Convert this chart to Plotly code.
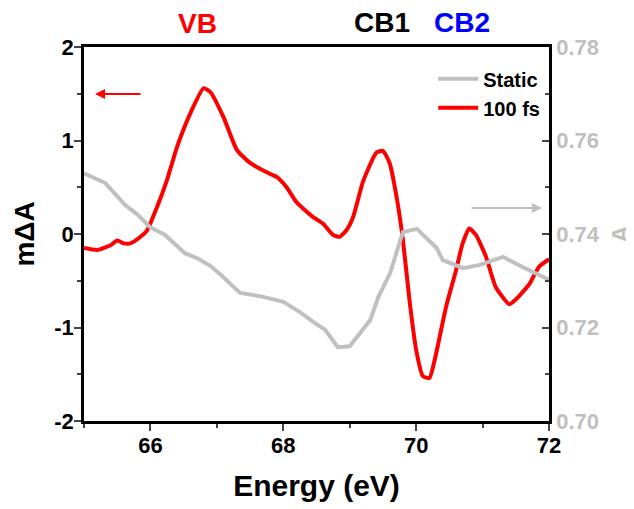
import plotly.graph_objects as go

# 100 fs transient (mΔA, left axis)
energy_100fs = [65.0, 65.2, 65.4, 65.5, 65.6, 65.7, 65.85, 65.95, 66.1, 66.25,
                66.4, 66.6, 66.8, 66.9, 67.1, 67.3, 67.5, 67.75, 67.9, 68.05,
                68.2, 68.45, 68.6, 68.75, 68.85, 68.95, 69.05, 69.2, 69.4, 69.5,
                69.6, 69.7, 69.8, 69.9, 70.0, 70.1, 70.2, 70.3, 70.45, 70.6,
                70.7, 70.8, 70.9, 71.05, 71.2, 71.4, 71.5, 71.7, 71.85, 72.0]
dA_100fs = [-0.15, -0.17, -0.12, -0.07, -0.10, -0.10, -0.03, 0.04, 0.29, 0.58,
            0.93, 1.29, 1.56, 1.52, 1.25, 0.90, 0.76, 0.66, 0.61, 0.50,
            0.34, 0.18, 0.11, -0.01, -0.03, 0.04, 0.18, 0.56, 0.87, 0.89,
            0.76, 0.42, -0.06, -0.71, -1.24, -1.52, -1.54, -1.28, -0.78, -0.39,
            -0.10, 0.06, -0.01, -0.24, -0.57, -0.75, -0.70, -0.54, -0.35, -0.27]

# Static absorbance (A, right axis)
energy_static = [65.0, 65.32, 65.62, 65.81, 65.99, 66.22, 66.52, 66.72, 66.90, 67.05,
                 67.35, 67.65, 68.0, 68.25, 68.45, 68.63, 68.82, 69.0, 69.31, 69.43,
                 69.61, 69.8, 70.01, 70.31, 70.4, 70.71, 70.96, 71.31, 71.61, 72.0]
A_static = [0.7530, 0.7509, 0.7462, 0.7441, 0.7415, 0.7398, 0.7359, 0.7347, 0.7332, 0.7314,
            0.7274, 0.7267, 0.7255, 0.7233, 0.7212, 0.7195, 0.7158, 0.7160, 0.7216, 0.7265,
            0.7317, 0.7404, 0.7411, 0.7370, 0.7344, 0.7327, 0.7334, 0.7351, 0.7329, 0.7302]

x_ticks = [66, 68, 70, 72]
x_labels = ["66", "68", "70", "72"]
y_left_ticks = [-2, -1, 0, 1, 2]
y_left_labels = ["-2", "-1", "0", "1", "2"]
y_right_ticks = [0.70, 0.72, 0.74, 0.76, 0.78]
y_right_labels = ["0.70", "0.72", "0.74", "0.76", "0.78"]

GRAY = "#c0c0c0"
FONT = "Liberation Sans"


def b(s):
    return "<b>" + s + "</b>"


fig = go.Figure()
fig.add_trace(go.Scatter(x=energy_static, y=A_static, name=b("Static"), mode="lines",
                         line=dict(color=GRAY, width=4), yaxis="y2"))
fig.add_trace(go.Scatter(x=energy_100fs, y=dA_100fs, name=b("100 fs"), mode="lines",
                         line=dict(color="#ff0000", width=4, shape="spline", smoothing=0.5),
                         yaxis="y"))

fig.update_layout(
    width=626, height=501,
    margin=dict(l=76, r=85, t=39, b=88, autoexpand=False),
    plot_bgcolor="white", paper_bgcolor="white",
    font=dict(family=FONT, color="black"),
    showlegend=True,
    legend=dict(x=0.751, y=0.967, xanchor="left", yanchor="top", itemwidth=40,
                bgcolor="rgba(0,0,0,0)", font=dict(size=20),
                traceorder="normal", tracegroupgap=0),
    xaxis=dict(range=[65, 72], tickvals=x_ticks, ticktext=[b(t) for t in x_labels],
               ticks="outside", ticklen=7, tickwidth=2, automargin=False,
               ticklabelstandoff=-4,
               showline=True, linewidth=2.5, linecolor="black", mirror=True,
               showgrid=False, zeroline=False,
               tickfont=dict(size=22),
               minor=dict(tickvals=[65, 67, 69, 71], ticks="outside", ticklen=4, tickwidth=2),
               title=dict(text=b("Energy (eV)"), font=dict(size=30), standoff=18)),
    yaxis=dict(range=[-2, 2], tickvals=y_left_ticks, ticktext=[b(t) for t in y_left_labels],
               ticks="outside", ticklen=7, tickwidth=2, automargin=False,
               ticklabelstandoff=-4,
               showline=True, linewidth=2.5, linecolor="black",
               showgrid=False, zeroline=False,
               tickfont=dict(size=22),
               minor=dict(dtick=0.5, ticks="outside", ticklen=4, tickwidth=2),
               title=dict(text=b("mΔA"), font=dict(size=28), standoff=12)),
    yaxis2=dict(range=[0.70, 0.78], overlaying="y", side="right",
                tickvals=y_right_ticks, ticktext=[b(t) for t in y_right_labels],
                ticks="inside", ticklen=7, tickwidth=2, automargin=False,
                showline=True, linewidth=2.5, linecolor="black",
                showgrid=False, zeroline=False,
                tickfont=dict(size=22, color=GRAY),
                minor=dict(dtick=0.01, ticks="inside", ticklen=4, tickwidth=2),
                title=dict(text=b("A"), font=dict(size=24, color=GRAY), standoff=18)),
    annotations=[
        dict(text=b("VB"), x=0.245, y=1.0615, xref="paper", yref="paper", showarrow=False,
             xanchor="center", yanchor="middle", font=dict(size=28, color="#ff0000")),
        dict(text=b("CB1"), x=0.641, y=1.066, xref="paper", yref="paper", showarrow=False,
             xanchor="center", yanchor="middle", font=dict(size=28, color="black")),
        dict(text=b("CB2"), x=0.813, y=1.066, xref="paper", yref="paper", showarrow=False,
             xanchor="center", yanchor="middle", font=dict(size=28, color="#0000ff")),
        dict(text="", x=0.0237, y=0.874, xref="paper", yref="paper", showarrow=True,
             ax=47, ay=0, arrowhead=2, arrowsize=1, arrowwidth=2, arrowcolor="#ff0000"),
        dict(text="", x=0.985, y=0.5695, xref="paper", yref="paper", showarrow=True,
             ax=-72, ay=0, arrowhead=2, arrowsize=1, arrowwidth=2, arrowcolor=GRAY),
    ],
)

fig.write_html("out.html")
